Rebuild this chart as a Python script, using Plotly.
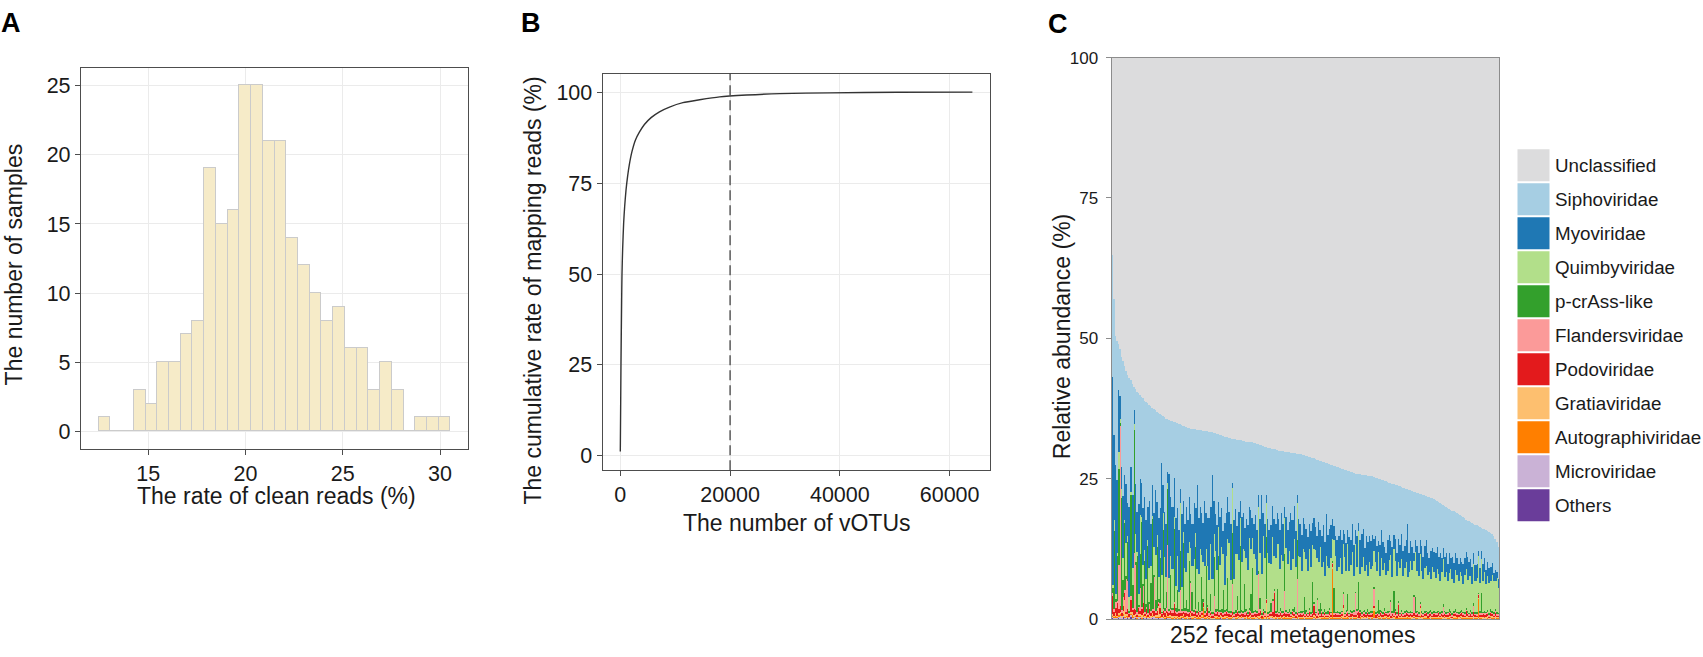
"""Virome overview: clean-read rate, vOTU cumulative mapping, family composition."""

import numpy as np
import plotly.graph_objects as go

W, H = 1703, 657
FONT = "Liberation Sans, Arial, Helvetica, sans-serif"
INK = "#1a1a1a"

# ---- A: rate of clean reads (histogram, 30 bins)
clean_bin_start = 12.446
clean_bin_width = 0.603
clean_counts = [1, 0, 0, 3, 2, 5, 5, 7, 8, 19, 15, 16, 25, 25, 21,
                21, 14, 12, 10, 8, 9, 6, 6, 3, 5, 3, 0, 1, 1, 1]

# ---- B: cumulative mapping rate vs number of vOTUs
votu_n = [0, 122, 244, 305, 427, 610, 793, 1037, 1341, 1646, 2134, 2744, 3476,
          4390, 5610, 7134, 8963, 11400, 14450, 18110, 22990, 29090, 38240,
          50440, 64150]
cum_rate = [1.2, 24.8, 42.6, 49.8, 56.9, 64.0, 68.5, 73.0, 77.0, 80.1, 83.7,
            86.8, 89.0, 91.1, 93.0, 94.6, 95.9, 97.1, 97.9, 98.7, 99.2, 99.6,
            99.8, 99.95, 100.0]
votu_cutoff = 20000

# ---- C: family composition of 252 fecal metagenomes (%)
samples = list(range(1, 253))
classified = [
    65.0, 57.0, 50.5, 49.6, 49.0, 48.1, 46.8, 46.0, 45.1, 44.2,
    43.5, 43.0, 42.6, 42.0, 41.4, 41.0, 40.6, 40.3, 40.0, 39.7,
    39.4, 39.0, 38.8, 38.5, 38.2, 38.0, 37.7, 37.5, 37.3, 37.0,
    36.8, 36.6, 36.4, 36.2, 36.0, 35.8, 35.7, 35.5, 35.4, 35.3,
    35.2, 35.1, 35.0, 34.9, 34.8, 34.6, 34.5, 34.4, 34.3, 34.2,
    34.1, 34.0, 34.0, 33.9, 33.9, 33.8, 33.8, 33.7, 33.7, 33.6,
    33.6, 33.5, 33.5, 33.4, 33.4, 33.4, 33.3, 33.2, 33.1, 33.0,
    32.9, 32.8, 32.7, 32.6, 32.6, 32.5, 32.4, 32.3, 32.2, 32.1,
    32.1, 32.0, 32.0, 31.9, 31.9, 31.8, 31.8, 31.7, 31.7, 31.6,
    31.6, 31.6, 31.5, 31.4, 31.3, 31.2, 31.1, 31.0, 30.9, 30.8,
    30.7, 30.6, 30.6, 30.5, 30.4, 30.4, 30.3, 30.2, 30.1, 30.1,
    30.0, 30.0, 29.9, 29.9, 29.8, 29.8, 29.7, 29.7, 29.6, 29.6,
    29.5, 29.5, 29.4, 29.4, 29.3, 29.3, 29.2, 29.1, 29.0, 28.9,
    28.8, 28.7, 28.6, 28.5, 28.4, 28.3, 28.2, 28.1, 28.0, 27.9,
    27.8, 27.7, 27.6, 27.5, 27.4, 27.3, 27.2, 27.1, 27.0, 26.9,
    26.8, 26.7, 26.6, 26.5, 26.4, 26.3, 26.2, 26.1, 26.0, 26.0,
    25.9, 25.9, 25.8, 25.8, 25.7, 25.7, 25.6, 25.6, 25.5, 25.5,
    25.4, 25.3, 25.2, 25.1, 25.0, 24.9, 24.8, 24.7, 24.6, 24.5,
    24.4, 24.3, 24.2, 24.1, 24.0, 23.9, 23.8, 23.7, 23.6, 23.5,
    23.4, 23.3, 23.2, 23.1, 23.0, 22.9, 22.8, 22.7, 22.6, 22.5,
    22.4, 22.3, 22.2, 22.1, 22.0, 21.9, 21.8, 21.7, 21.6, 21.5,
    21.3, 21.2, 21.0, 20.8, 20.6, 20.4, 20.2, 20.0, 19.8, 19.7,
    19.5, 19.4, 19.3, 19.1, 19.0, 18.8, 18.6, 18.4, 18.2, 18.0,
    17.8, 17.6, 17.5, 17.3, 17.2, 17.0, 16.9, 16.8, 16.6, 16.5,
    16.3, 16.2, 16.1, 16.0, 15.8, 15.6, 15.4, 15.2, 14.8, 14.4,
    13.8, 13.0,
]
myoviridae = [
    37, 15, 23, 13, 11, 4, 4, 11, 8, 10.5, 6, 16, 4.5, 13, 2.5, 9, 7, 16, 6.5, 6, 10,
    9.5, 10.5, 6, 12, 7.5, 5.5, 6, 11.5, 6, 10.5, 7.5, 20, 5, 8, 9.5, 2, 18.5, 10.5, 11, 7, 12,
    8.5, 11, 2.5, 13, 5.5, 8, 11.5, 6, 8, 6, 7.5, 10, 4.5, 15, 10, 7.5, 7.5, 7, 11.5, 6.5, 8.5,
    11, 6.5, 18.5, 6, 6.5, 8, 4.5, 8.5, 7, 4, 11, 7.5, 7.5, 5.5, 10, 1, 10.5, 8, 5, 8.5, 3,
    8, 6.5, 4, 7, 8, 5.5, 7, 3.5, 5.5, 8, 8, 2, 6, 14, 4, 6, 1.5, 6, 6, 7, 5.5,
    6.5, 6, 5.5, 4.5, 7, 7.5, 6.5, 2, 5.5, 6, 5, 10, 7, 6, 6.5, 1.5, 6.5, 6, 6.5, 5.5, 5,
    5.5, 6, 4.5, 6.5, 4, 5.5, 4, 4, 7, 3, 5.5, 6.5, 6, 7.5, 5.5, 7, 6, 3.5, 2.5, 3.5, 5.5,
    5.5, 5, 6, 2.5, 4, 5, 2.5, 6, 4.5, 5, 5.5, 2.5, 5.5, 1.5, 6, 6, 5, 4, 5, 6, 4.5,
    5, 5.5, 2, 4.5, 4.5, 2, 5.5, 5, 5, 3, 4, 5.5, 4.5, 2.5, 5.5, 2.5, 4, 4, 4, 4, 4.5,
    4.5, 4, 4, 9.5, 3.5, 3.5, 4, 1.5, 2, 4.5, 4, 2.5, 4.5, 4, 4, 4.5, 4, 2.5, 5, 3.5, 3.5,
    4.5, 4, 3, 5, 2.5, 2, 3.5, 3.5, 3, 3.5, 2, 4, 3.5, 3, 3, 3, 2.5, 2.5, 3.5, 3, 3,
    4, 2.5, 3, 3, 2, 3, 2.5, 1, 2.5, 1.5, 3, 2.5, 2.5, 2.5, 2.5, 2.5, 2, 1.5, 2, 1, 1.5,
]
quimbyviridae = [
    0.5, 2, 1, 0.5, 3, 0.8, 1.5, 4, 0.5, 6, 1, 2.5, 0.5, 3, 1, 5, 0.8, 2, 7, 1, 3.5,
    2, 4.5, 1, 6, 3, 0.5, 5, 8, 2, 4, 1.5, 6.5, 3, 9, 2.5, 1, 5.5, 3.5, 7, 2, 4,
    6, 3, 8.5, 4, 2, 7, 5, 10, 3.5, 6, 4.5, 9, 2.5, 7.5, 5, 11, 4, 6.5, 8, 3, 7,
    5.5, 9, 6, 4, 10.5, 7, 5, 8, 11, 6.5, 4.5, 9.5, 7, 12, 5.5, 8, 6, 10, 7.5, 9, 5,
    8.5, 11, 6, 9, 7.5, 12.5, 8, 5.5, 10, 9, 6.5, 11.5, 8, 7, 13, 9.5, 6, 10.5, 8.5, 7, 11,
    6, 9.5, 8, 12, 7, 10, 9, 6.5, 11, 8.5, 10.5, 7.5, 9, 12, 8, 6.5, 10, 9.5, 7, 11, 8,
    9, 7.5, 10.5, 8, 6.5, 9.5, 11, 7, 8.5, 10, 7.5, 9, 6, 10, 8, 7, 9.5, 4, 8.5, 10, 7,
    8, 9.5, 6.5, 8.5, 10, 7, 9, 7.5, 8, 10.5, 6, 8.5, 7.5, 9, 6.5, 8, 9.5, 7, 8.5, 6, 9,
    7.5, 8, 6.5, 9, 7, 8.5, 6, 9.5, 7.5, 8, 6.5, 7, 9, 8, 6, 7.5, 8.5, 6.5, 7, 8, 9,
    6.5, 7.5, 8.5, 6, 7, 9, 7.5, 6, 8, 7, 6.5, 8.5, 7, 6, 7.5, 8, 6.5, 7, 5.5, 8, 7,
    6, 7.5, 6.5, 5.5, 7, 8, 6, 7, 5.5, 6.5, 7.5, 6, 5, 7, 6.5, 5.5, 7, 6, 5, 6.5, 7,
    5.5, 6.5, 6, 5, 7, 5.5, 6, 6.5, 5, 6, 5.5, 7, 5, 6, 5.5, 5, 6.5, 5.5, 5, 6, 4.5,
]
pcrass_like = [
    1, 14, 0.5, 8, 17, 0.5, 20, 3, 12, 0.3, 7, 0.2, 18, 4, 22, 0.5, 10, 0.2, 6, 15, 0.3,
    9, 0.5, 12, 0.2, 5, 16, 0.3, 2, 11, 0.4, 8, 0.2, 14, 0.5, 3, 10, 0.3, 6, 0.2, 13, 0.5,
    4, 0.3, 7, 0.2, 12, 0.5, 2, 0.3, 9, 0.2, 3.5, 0.4, 11, 0.3, 1.5, 0.2, 6, 0.5, 0.3, 8, 0.2,
    0.5, 3, 0.2, 7, 0.4, 0.3, 10, 0.2, 0.5, 4, 0.3, 0.2, 6, 0.4, 0.3, 9, 0.2, 0.5, 2.5, 0.3, 12,
    0.3, 0.2, 5, 0.4, 0.3, 0.2, 3, 8, 0.2, 0.4, 0.3, 0.5, 2, 0.3, 0.2, 0.4, 11, 0.3, 0.2, 1.5, 0.4,
    0.2, 0.3, 4, 0.2, 0.5, 0.3, 0.2, 6.5, 0.3, 0.2, 0.4, 0.3, 0.2, 1, 0.3, 7, 0.2, 0.4, 0.3, 0.2, 3,
    0.3, 0.2, 0.4, 0.2, 5.5, 0.3, 0.2, 0.3, 0.2, 2, 0.4, 0.2, 0.3, 0.2, 0.5, 0.3, 0.2, 0.3, 4.5, 0.2, 0.3,
    0.2, 0.3, 0.2, 0.4, 0.2, 0.3, 3, 0.2, 0.3, 0.2, 0.4, 0.2, 0.3, 5, 0.2, 0.3, 0.2, 0.4, 0.2, 0.3, 0.2,
    0.3, 0.2, 0.4, 0.2, 0.3, 2.5, 0.2, 0.3, 0.2, 0.4, 0.2, 0.3, 0.2, 0.3, 0.2, 4, 0.3, 0.2, 0.4, 0.2, 0.3,
    0.2, 0.3, 0.2, 0.4, 0.2, 0.3, 0.2, 0.3, 3, 0.2, 0.3, 0.2, 0.4, 0.2, 0.3, 0.2, 0.3, 0.2, 0.4, 0.2, 0.3,
    0.2, 0.3, 0.2, 0.3, 0.2, 0.4, 0.2, 0.3, 0.2, 0.3, 0.2, 0.3, 0.2, 0.4, 0.2, 0.3, 0.2, 0.3, 0.2, 0.3, 0.2,
    0.3, 0.2, 0.3, 0.2, 0.4, 0.2, 0.3, 0.2, 0.3, 3.5, 0.2, 0.3, 0.2, 0.3, 0.2, 0.4, 0.2, 0.3, 0.2, 0.3, 0.2,
]
flandersviridae = [
    0.5, 0.3, 1, 0.2, 8, 32, 0.5, 1.5, 0.3, 6, 5, 0.2, 0.8, 0.3, 10, 8, 0.4, 0.2, 4, 0.5, 3,
    0.3, 0.5, 0.2, 1, 0.3, 0.4, 6, 0.2, 0.5, 0.3, 0.8, 0.2, 0.4, 0.3, 0.5, 12, 0.3, 0.2, 0.6, 0.3, 0.4,
    0.2, 0.5, 4, 0.3, 0.2, 0.4, 0.3, 0.5, 0.2, 5, 0.3, 0.2, 0.4, 0.3, 0.2, 0.5, 0.3, 0.2, 0.4, 0.3, 0.2,
    0.3, 0.2, 0.4, 3, 0.3, 0.2, 0.5, 0.3, 0.2, 0.4, 0.3, 0.2, 0.3, 0.2, 0.4, 5, 0.3, 0.2, 0.4, 0.3, 0.2,
    0.3, 0.2, 0.4, 0.3, 0.2, 0.5, 0.3, 0.2, 0.4, 0.3, 0.2, 7, 0.3, 0.2, 0.4, 0.3, 0.2, 0.3, 0.2, 0.4, 2,
    0.3, 0.2, 0.4, 0.3, 0.2, 0.3, 0.2, 4, 0.3, 0.2, 0.4, 0.3, 0.2, 0.3, 0.2, 6, 0.3, 0.2, 0.4, 0.3, 0.2,
    0.3, 0.2, 0.4, 0.3, 0.2, 0.3, 0.2, 3, 0.3, 0.2, 0.4, 0.3, 0.2, 0.3, 0.2, 0.4, 0.3, 0.2, 0.3, 0.2, 0.4,
    0.3, 0.2, 0.3, 2, 0.2, 0.4, 0.3, 0.2, 0.3, 0.2, 0.4, 4, 0.3, 0.2, 0.3, 0.2, 0.4, 0.3, 0.2, 0.3, 0.2,
    0.4, 0.3, 3, 0.2, 0.3, 0.2, 0.4, 0.3, 0.2, 0.3, 0.2, 0.4, 0.3, 2.5, 0.2, 0.3, 0.2, 0.4, 0.3, 0.2, 0.3,
    0.2, 0.4, 0.3, 0.2, 0.3, 0.2, 0.4, 3, 0.2, 0.3, 0.2, 0.4, 0.3, 0.2, 0.3, 0.2, 0.4, 0.3, 0.2, 0.3, 0.2,
    0.4, 0.3, 0.2, 0.3, 0.2, 1.5, 0.3, 0.2, 0.4, 0.3, 0.2, 0.3, 0.2, 0.4, 0.3, 0.2, 0.3, 0.2, 0.4, 0.3, 0.2,
    0.3, 0.2, 0.4, 0.3, 1.2, 0.2, 0.3, 0.2, 0.4, 0.3, 0.2, 0.3, 0.2, 0.4, 0.3, 0.2, 0.3, 0.2, 0.4, 0.3, 0.2,
]
podoviridae = [
    3.2, 0.8, 1, 2.5, 0.6, 1.2, 0.5, 0.9, 1.5, 0.4, 0.8, 0.6, 2, 0.5, 1, 0.7, 0.4, 1.2, 0.6, 0.9, 1.8,
    0.5, 0.8, 0.4, 1, 0.6, 0.3, 0.9, 0.5, 0.7, 0.4, 1.1, 0.5, 0.6, 0.8, 0.4, 0.7, 0.5, 0.9, 0.6, 2.2, 0.5,
    0.4, 0.7, 0.5, 0.6, 0.3, 0.8, 0.5, 0.4, 0.7, 0.5, 0.6, 0.3, 0.9, 0.4, 0.6, 0.5, 0.4, 0.7, 0.5, 0.6, 1.5,
    0.4, 0.5, 0.3, 0.6, 0.4, 0.7, 0.5, 0.3, 0.6, 0.4, 0.5, 0.8, 0.3, 0.5, 0.4, 0.6, 0.3, 0.5, 0.7, 0.4, 0.5,
    0.3, 0.6, 0.4, 0.5, 0.3, 0.7, 0.4, 0.5, 0.3, 0.6, 0.4, 0.5, 0.8, 0.3, 0.5, 0.4, 0.6, 0.3, 0.5, 0.4, 0.6,
    4.5, 0.3, 0.5, 0.4, 0.6, 0.3, 0.5, 0.4, 0.7, 0.3, 0.5, 0.4, 0.6, 0.3, 0.5, 0.4, 0.3, 0.6, 0.4, 0.5, 0.3,
    0.5, 0.4, 0.6, 0.3, 0.5, 1.6, 0.4, 0.3, 0.5, 0.4, 0.6, 0.3, 0.5, 0.4, 0.3, 0.5, 0.4, 0.6, 0.3, 0.5, 0.4,
    0.3, 0.5, 0.4, 0.6, 0.3, 0.4, 0.5, 0.3, 0.6, 0.4, 0.5, 0.3, 0.4, 1.2, 0.5, 0.3, 0.4, 0.6, 0.3, 0.5, 0.4,
    0.3, 0.5, 0.4, 0.6, 0.3, 0.4, 0.5, 0.3, 0.4, 0.6, 0.3, 0.5, 0.4, 0.3, 0.5, 0.4, 0.6, 0.3, 2, 0.4, 0.5,
    0.3, 0.4, 0.6, 0.3, 0.5, 0.4, 0.3, 0.5, 0.4, 0.6, 0.3, 0.4, 0.5, 0.3, 0.4, 0.6, 0.3, 0.5, 0.4, 0.3, 0.5,
    0.4, 0.3, 0.6, 0.4, 0.5, 0.3, 0.4, 0.5, 0.3, 0.6, 0.4, 0.3, 0.5, 0.4, 0.3, 0.5, 0.4, 0.6, 0.3, 0.4, 1,
    0.4, 0.3, 0.5, 0.4, 0.6, 0.3, 0.4, 0.5, 0.3, 0.4, 0.6, 0.3, 0.5, 0.4, 0.3, 0.5, 0.4, 0.3, 0.6, 0.4, 0.3,
]
gratiaviridae = [
    0.3, 0.2, 0.5, 0.1, 0.4, 0.2, 0.3, 0.6, 3, 0.2, 0.4, 0.1, 0.3, 0.5, 0.2, 0.3, 0.1, 0.4, 0.2, 0.6, 0.3,
    0.2, 0.4, 0.1, 0.3, 0.2, 0.5, 0.1, 0.3, 0.2, 2, 0.4, 0.1, 0.3, 0.2, 0.5, 0.1, 0.3, 0.2, 0.4, 0.1, 0.3,
    0.2, 0.1, 0.3, 0.2, 0.4, 0.1, 0.3, 0.2, 0.1, 0.5, 0.2, 0.3, 0.1, 0.2, 0.4, 0.1, 0.3, 0.2, 0.1, 0.3, 0.2,
    0.1, 0.3, 0.2, 0.1, 0.4, 0.2, 0.1, 0.3, 0.2, 0.1, 0.3, 0.2, 0.4, 0.1, 0.2, 0.3, 0.1, 0.2, 0.3, 0.1, 0.2,
    0.3, 0.1, 0.2, 0.3, 0.1, 0.4, 0.2, 0.1, 0.3, 0.2, 0.1, 0.3, 0.2, 0.1, 0.4, 0.2, 2.5, 0.1, 0.3, 0.2, 0.1,
    0.2, 0.3, 0.1, 0.2, 0.4, 0.1, 0.3, 0.2, 0.1, 0.3, 0.2, 0.1, 0.4, 0.2, 0.1, 0.3, 0.2, 0.1, 0.2, 0.3, 0.1,
    0.2, 0.1, 0.3, 0.2, 0.1, 0.4, 0.2, 0.1, 0.3, 0.2, 0.1, 0.2, 0.3, 0.1, 0.2, 0.4, 0.1, 0.2, 0.3, 0.1, 0.2,
    0.3, 0.1, 0.2, 1.8, 0.1, 0.3, 0.2, 0.1, 0.2, 0.3, 0.1, 0.2, 0.4, 0.1, 0.2, 0.3, 0.1, 0.2, 0.1, 0.3, 0.2,
    0.1, 0.2, 0.3, 0.1, 0.2, 0.1, 0.3, 0.2, 0.1, 0.4, 0.2, 0.1, 0.3, 0.2, 0.1, 0.2, 0.3, 0.1, 0.2, 0.1, 0.3,
    0.2, 0.1, 0.3, 0.2, 0.1, 0.2, 0.3, 0.1, 0.2, 0.1, 0.3, 1.5, 0.2, 0.1, 0.3, 0.2, 0.1, 0.2, 0.3, 0.1, 0.2,
    0.1, 0.3, 0.2, 0.1, 0.2, 0.3, 0.1, 0.2, 0.1, 0.3, 0.2, 0.1, 0.2, 0.3, 0.1, 0.2, 0.1, 0.3, 0.2, 0.1, 0.2,
    0.3, 0.1, 0.2, 0.1, 0.3, 0.2, 0.1, 0.2, 0.3, 0.1, 0.2, 0.1, 0.3, 0.2, 0.1, 0.2, 0.3, 0.1, 0.2, 0.1, 0.2,
]
autographiviridae = [
    0.2, 0.1, 0.3, 0.1, 0.2, 0.4, 0.1, 0.2, 0.1, 0.3, 0.2, 0.1, 0.2, 0.5, 0.1, 0.2, 0.3, 0.1, 0.2, 0.1, 0.3,
    0.1, 0.2, 0.1, 0.3, 0.1, 0.2, 0.1, 0.2, 0.4, 0.1, 0.2, 0.1, 0.3, 0.1, 0.2, 0.1, 0.2, 0.3, 0.1, 0.2, 0.1,
    0.2, 0.1, 0.2, 0.1, 0.3, 0.1, 0.2, 0.1, 0.2, 0.1, 0.3, 0.1, 0.2, 0.1, 0.2, 0.1, 0.2, 1.8, 0.1, 0.2, 0.1,
    0.1, 0.2, 0.1, 0.2, 0.1, 0.3, 0.1, 0.2, 0.1, 0.2, 0.1, 0.2, 0.1, 0.3, 0.1, 0.2, 0.1, 0.2, 0.1, 0.2, 0.1,
    0.2, 0.1, 0.2, 0.1, 0.3, 0.1, 0.2, 0.1, 0.2, 0.1, 0.2, 0.1, 0.3, 0.1, 0.2, 0.1, 0.2, 0.1, 0.2, 0.1, 0.3,
    0.1, 0.2, 0.1, 0.2, 0.1, 0.2, 0.1, 0.3, 0.1, 0.2, 0.1, 0.2, 0.1, 0.2, 0.1, 0.3, 0.1, 0.2, 0.1, 0.2, 0.1,
    0.2, 0.1, 0.2, 0.1, 0.3, 0.1, 0.2, 0.1, 0.2, 0.1, 0.2, 0.1, 0.3, 0.1, 0.2, 0.1, 0.2, 9, 0.1, 0.2, 0.1,
    0.2, 0.1, 0.2, 0.1, 0.2, 0.1, 0.3, 0.1, 0.2, 0.1, 0.2, 0.1, 0.2, 0.1, 0.3, 0.1, 0.2, 0.1, 0.2, 0.1, 0.2,
    0.1, 0.2, 1.5, 0.1, 0.2, 0.1, 0.2, 0.1, 0.3, 0.1, 0.2, 0.1, 0.2, 0.1, 0.2, 0.1, 0.3, 0.1, 0.2, 0.1, 0.2,
    0.1, 0.2, 0.1, 0.3, 0.1, 0.2, 0.1, 0.2, 0.1, 0.2, 0.1, 0.3, 0.1, 0.2, 0.1, 0.2, 0.1, 0.2, 0.1, 0.3, 0.1,
    0.2, 0.1, 0.2, 0.1, 0.2, 0.1, 0.3, 0.1, 0.2, 0.1, 0.2, 0.1, 0.2, 0.1, 0.3, 0.1, 0.2, 0.1, 0.2, 0.1, 0.2,
    0.1, 0.2, 0.1, 0.2, 0.1, 0.3, 0.1, 3.5, 0.1, 0.2, 0.1, 0.2, 0.1, 0.2, 0.1, 0.2, 0.1, 0.3, 0.1, 0.2, 0.1,
]
microviridae = [
    0.2, 0.3, 0.1, 0.4, 0.2, 0.6, 0.1, 0.3, 0.2, 0.5, 0.1, 0.2, 0.3, 0.1, 0.4, 0.2, 0.1, 0.3, 0.2, 0.1, 0.4,
    0.2, 0.1, 0.3, 0.1, 0.2, 0.1, 0.4, 0.1, 0.2, 0.1, 0.3, 0.2, 0.1, 0.2, 0.1, 0.3, 0.1, 0.2, 0.1, 0.2, 0.1,
    0.1, 0.2, 0.1, 0.1, 0.3, 0.1, 0.2, 0.1, 0.1, 0.2, 0.1, 0.3, 0.1, 0.1, 0.2, 0.1, 0.1, 0.2, 0.1, 0.1, 0.2,
    0.1, 0.2, 0.1, 0.1, 0.1, 0.2, 0.1, 0.1, 0.2, 0.1, 0.1, 0.1, 0.2, 0.1, 0.1, 0.2, 0.1, 0.1, 0.1, 0.2, 0.1,
    0.2, 0.1, 0.1, 0.2, 0.1, 0.1, 0.2, 0.1, 0.1, 0.1, 0.2, 0.1, 0.1, 0.2, 0.1, 0.1, 0.1, 0.2, 0.1, 0.1, 0.2,
    0.1, 0.1, 0.2, 0.1, 0.1, 0.1, 0.2, 0.1, 0.1, 0.2, 0.1, 0.1, 0.1, 0.2, 0.1, 0.1, 0.2, 0.1, 0.1, 0.1, 0.2,
    0.1, 0.2, 0.1, 0.1, 0.1, 0.2, 0.1, 0.1, 0.2, 0.1, 0.1, 0.1, 0.2, 0.1, 0.1, 0.2, 0.1, 0.1, 0.1, 0.2, 0.1,
    0.1, 0.1, 0.2, 0.1, 0.1, 0.2, 0.1, 0.1, 0.1, 0.2, 0.1, 0.1, 0.2, 0.1, 0.1, 0.1, 0.2, 0.1, 0.1, 0.2, 0.1,
    0.2, 0.1, 0.1, 0.1, 0.2, 0.1, 0.1, 0.2, 0.1, 0.1, 0.1, 0.2, 0.1, 0.1, 0.2, 0.1, 0.1, 0.1, 0.2, 0.1, 0.1,
    0.1, 0.2, 0.1, 0.1, 0.2, 0.1, 0.1, 0.1, 0.2, 0.1, 0.1, 0.2, 0.1, 0.1, 0.1, 0.2, 0.1, 0.1, 0.2, 0.1, 0.1,
    0.1, 0.1, 0.2, 0.1, 0.1, 0.1, 0.2, 0.1, 0.1, 0.2, 0.1, 0.1, 0.1, 0.2, 0.1, 0.1, 0.2, 0.1, 0.1, 0.1, 0.2,
    0.1, 0.2, 0.1, 0.1, 0.2, 0.1, 0.1, 0.1, 0.2, 0.1, 0.1, 0.2, 0.1, 0.1, 0.1, 0.2, 0.1, 0.1, 0.2, 0.1, 0.1,
]
others = [
    0.3, 0.1, 0.2, 0.0, 0.4, 0.1, 0.2, 0.5, 0.1, 0.0, 0.3, 0.1, 0.6, 0.2, 0.1, 0.3, 0.0, 0.2, 0.4, 0.1, 0.2,
    0.1, 0.3, 0.0, 0.2, 0.1, 0.4, 0.1, 0.2, 0.0, 0.3, 0.1, 0.1, 0.2, 0.0, 0.3, 0.1, 0.2, 0.1, 0.0, 0.2, 0.1,
    0.2, 0.0, 0.1, 0.3, 0.1, 0.1, 0.0, 0.2, 0.1, 0.3, 0.0, 0.1, 0.2, 0.1, 0.0, 0.1, 0.2, 0.1, 0.1, 0.0, 0.2,
    0.1, 0.1, 0.0, 0.2, 0.1, 0.0, 0.1, 0.3, 0.1, 0.0, 0.1, 0.2, 0.1, 0.0, 0.1, 0.1, 0.2, 0.0, 0.1, 0.1, 0.0,
    0.1, 0.2, 0.0, 0.1, 0.1, 0.0, 0.2, 0.1, 0.1, 0.0, 0.1, 0.1, 0.2, 0.0, 0.1, 0.0, 0.1, 0.1, 0.0, 0.2, 0.1,
    0.0, 0.1, 0.1, 0.0, 0.1, 0.2, 0.0, 0.1, 0.1, 0.0, 0.1, 0.0, 0.2, 0.1, 0.0, 0.1, 0.1, 0.0, 0.1, 0.0, 0.1,
    0.1, 0.0, 0.1, 0.1, 0.0, 0.2, 0.1, 0.0, 0.1, 0.0, 0.1, 0.1, 0.0, 0.1, 0.0, 0.2, 0.1, 0.0, 0.1, 0.0, 0.1,
    0.0, 0.1, 0.1, 0.0, 0.1, 0.0, 0.1, 0.2, 0.0, 0.1, 0.0, 0.1, 0.1, 0.0, 0.1, 0.0, 0.1, 0.0, 0.2, 0.1, 0.0,
    0.1, 0.0, 0.1, 0.0, 0.1, 0.1, 0.0, 0.1, 0.0, 0.1, 0.2, 0.0, 0.1, 0.0, 0.1, 0.0, 0.1, 0.1, 0.0, 0.1, 0.0,
    0.1, 0.0, 0.1, 0.1, 0.0, 0.1, 0.0, 0.2, 0.0, 0.1, 0.0, 0.1, 0.0, 0.1, 0.1, 0.0, 0.1, 0.0, 0.1, 0.0, 0.1,
    0.0, 0.1, 0.0, 0.1, 0.1, 0.0, 0.1, 0.0, 0.1, 0.0, 0.2, 0.0, 0.1, 0.0, 0.1, 0.0, 0.1, 0.1, 0.0, 0.1, 0.0,
    0.1, 0.0, 0.1, 0.0, 0.1, 0.0, 0.1, 0.1, 0.0, 0.1, 0.0, 0.1, 0.0, 0.1, 0.0, 0.1, 0.1, 0.0, 0.1, 0.0, 0.1,
]

families = ["Unclassified", "Siphoviridae", "Myoviridae", "Quimbyviridae", "p-crAss-like",
            "Flandersviridae", "Podoviridae", "Gratiaviridae", "Autographiviridae",
            "Microviridae", "Others"]
family_colors = ["#DCDCDD", "#A6CEE3", "#1F78B4", "#B2DF8A", "#33A02C", "#FB9A99",
                 "#E31A1C", "#FDBF6F", "#FF7F00", "#CAB2D6", "#6A3D9A"]

lower = {
    "Others": others,
    "Microviridae": microviridae,
    "Autographiviridae": autographiviridae,
    "Gratiaviridae": gratiaviridae,
    "Podoviridae": podoviridae,
    "Flandersviridae": flandersviridae,
    "p-crAss-like": pcrass_like,
    "Quimbyviridae": quimbyviridae,
    "Myoviridae": myoviridae,
}
for name, vals in lower.items():
    assert len(vals) == 252, (name, len(vals))
assert len(classified) == 252

lower_sum = np.sum([np.array(v, dtype=float) for v in lower.values()], axis=0)
siphoviridae = np.clip(np.array(classified) - lower_sum, 0, None)
unclassified = 100 - np.array(classified)
stack = dict(lower)
stack["Siphoviridae"] = siphoviridae
stack["Unclassified"] = unclassified
color_of = dict(zip(families, family_colors))


def px_x(p):
    return p / W


def px_y(p):
    return 1 - p / H


fig = go.Figure()

# A
clean_centers = [clean_bin_start + (k + 0.5) * clean_bin_width for k in range(len(clean_counts))]
fig.add_trace(go.Bar(
    x=clean_centers, y=clean_counts, width=clean_bin_width,
    marker=dict(color="#F6EBC8", line=dict(color="#CBCBCB", width=1)),
    xaxis="x", yaxis="y", showlegend=False,
))

# B
fig.add_trace(go.Scatter(
    x=votu_n, y=cum_rate, mode="lines",
    line=dict(color="#333333", width=1.4, shape="spline", smoothing=0.6),
    xaxis="x2", yaxis="y2", showlegend=False,
))

# C (stacked bottom -> top)
for name in reversed(families):
    fig.add_trace(go.Bar(
        x=samples, y=stack[name], name=name,
        marker=dict(color=color_of[name], line=dict(width=0)),
        xaxis="x3", yaxis="y3", showlegend=False,
    ))

# legend for C
fig.add_trace(go.Scatter(
    x=[16.5] * len(families), y=list(range(len(families))), mode="markers",
    marker=dict(symbol="square", size=32, color=family_colors, line=dict(width=0)),
    xaxis="x4", yaxis="y4", showlegend=False, hoverinfo="skip",
))

frame = "#4D4D4D"
grid = "#EBEBEB"
tick_font = dict(family=FONT, size=21.5, color=INK)
common_ab = dict(showgrid=True, gridcolor=grid, gridwidth=1, zeroline=False,
                 showline=True, mirror=True, linecolor=frame, linewidth=1.3,
                 ticks="outside", ticklen=5, tickcolor=frame, tickwidth=1.2,
                 tickfont=tick_font)

fig.update_layout(
    width=W, height=H, autosize=False,
    margin=dict(l=0, r=0, t=0, b=0),
    paper_bgcolor="white", plot_bgcolor="white",
    barmode="stack", bargap=0,
    font=dict(family=FONT, color=INK),
    xaxis=dict(domain=[px_x(81), px_x(468)], range=[11.54, 31.44],
               tickvals=[15, 20, 25, 30], anchor="y", **common_ab),
    yaxis=dict(domain=[px_y(453), px_y(61)], range=[-1.26, 26.26],
               tickvals=[0, 5, 10, 15, 20, 25], anchor="x", **common_ab),
    xaxis2=dict(domain=[px_x(602.7), px_x(990)], range=[-3207, 67357],
                tickvals=[0, 20000, 40000, 60000], tickformat="d", anchor="y2", **common_ab),
    yaxis2=dict(domain=[px_y(475), px_y(66.7)], range=[-3.95, 105.05],
                tickvals=[0, 25, 50, 75, 100], anchor="x2", **common_ab),
    xaxis3=dict(domain=[px_x(1111.7), px_x(1499.3)], range=[0.5, 252.5],
                showticklabels=False, ticks="", showgrid=False, zeroline=False,
                showline=True, mirror=True, linecolor="#8C8C8C", linewidth=1.3, anchor="y3"),
    yaxis3=dict(domain=[px_y(628.3), px_y(50)], range=[0, 100],
                tickvals=[0, 25, 50, 75, 100], showgrid=False, zeroline=False,
                showline=True, mirror=True, linecolor="#8C8C8C", linewidth=1.3,
                ticks="outside", ticklen=5, tickcolor="#8C8C8C", ticklabelstandoff=4,
                tickfont=dict(family=FONT, size=17, color=INK), anchor="x3"),
    xaxis4=dict(domain=[px_x(1517), 1.0], range=[0, W - 1517], visible=False, anchor="y4"),
    yaxis4=dict(domain=[px_y(528.5), px_y(143.5)], range=[10.5, -0.5], visible=False, anchor="x4"),
)

fig.add_shape(type="line", xref="x2", yref="y2 domain", x0=votu_cutoff, x1=votu_cutoff,
              y0=0, y1=1, line=dict(color="#333333", width=1.2, dash="10px,5px"))

title_font = dict(family=FONT, size=23, color=INK)
texts = [
    ("The rate of clean reads (%)", 276.7, 501, 0),
    ("The number of samples", 14, 263, -90),
    ("The number of vOTUs", 797, 529, 0),
    ("The cumulative rate of mapping reads (%)", 533, 290, -90),
    ("252 fecal metagenomes", 1292.5, 645, 0),
    ("Relative abundance (%)", 1062, 338, -90),
]
for txt, x, y, ang in texts:
    fig.add_annotation(text=txt, x=px_x(x), y=px_y(y), xref="paper", yref="paper",
                       xanchor="center", yanchor="middle", textangle=ang,
                       showarrow=False, font=title_font)

for letter, x, y in [("A", 11, 14), ("B", 531, 14), ("C", 1057.5, 15)]:
    fig.add_annotation(text=f"<b>{letter}</b>", x=px_x(x), y=px_y(y), xref="paper", yref="paper",
                       xanchor="center", yanchor="middle", showarrow=False,
                       font=dict(family=FONT, size=27, color="black"))

for k, name in enumerate(families):
    fig.add_annotation(text=name, x=36, y=k, xref="x4", yref="y4", xanchor="left",
                       yanchor="middle", showarrow=False,
                       font=dict(family=FONT, size=18.8, color=INK))

# the page body keeps its default 8px margin otherwise
fig.write_html("out.html", config={"displayModeBar": False},
               post_script="document.body.style.margin = '0';")
